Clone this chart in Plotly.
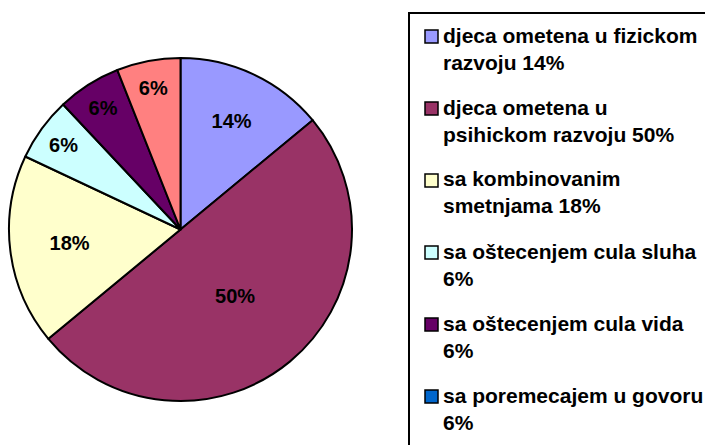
import plotly.graph_objects as go

# ---- data ----
labels = [
    "djeca ometena u fizickom<br>razvoju 14%",
    "djeca ometena u<br>psihickom razvoju 50%",
    "sa kombinovanim<br>smetnjama 18%",
    "sa oštecenjem cula sluha<br>6%",
    "sa oštecenjem cula vida<br>6%",
    "sa poremecajem u govoru<br>6%",
]
values = [14, 50, 18, 6, 6, 6]
slice_colors = ["#9999FF", "#993366", "#FFFFCC", "#CCFFFF", "#660066", "#FF8080"]
legend_colors = ["#9999FF", "#993366", "#FFFFCC", "#CCFFFF", "#660066", "#0066CC"]

W, H = 705, 445
FONT = "Liberation Sans, Arial, sans-serif"


def px(x):
    return x / W


def py(y):
    return 1 - y / H


fig = go.Figure()
fig.add_trace(go.Pie(
    values=values,
    labels=labels,
    sort=False,
    direction="clockwise",
    rotation=0,
    marker=dict(colors=slice_colors, line=dict(color="black", width=2)),
    texttemplate="%{percent:.0%}",
    textposition="inside",
    insidetextorientation="horizontal",
    textfont=dict(family=FONT, size=20, color="black", weight="bold"),
    domain=dict(x=[px(9), px(352)], y=[py(401), py(58)]),
    showlegend=False,
    hoverinfo="label+percent",
))

shapes = [dict(type="rect", xref="paper", yref="paper",
               x0=px(409), x1=px(730), y0=py(470), y1=py(13),
               line=dict(color="black", width=2), fillcolor="rgba(0,0,0,0)")]
annotations = []
row0, step = 36.5, 72
for i, (lab, col) in enumerate(zip(labels, legend_colors)):
    yc = row0 + i * step
    shapes.append(dict(type="rect", xref="paper", yref="paper",
                       x0=px(425), x1=px(438), y0=py(yc + 6.5), y1=py(yc - 6.5),
                       line=dict(color="black", width=1.5), fillcolor=col))
    annotations.append(dict(
        x=px(440.5), y=py(yc - 15), xref="paper", yref="paper",
        xanchor="left", yanchor="top", align="left", showarrow=False,
        text=lab, font=dict(family=FONT, size=21, color="black", weight="bold"),
    ))

fig.update_layout(
    width=W, height=H,
    margin=dict(l=0, r=0, t=0, b=0),
    paper_bgcolor="white", plot_bgcolor="white",
    shapes=shapes, annotations=annotations,
)

fig.write_html("out.html", config={"displayModeBar": False})

# remove the browser's default body margin so the figure sits at the page origin
with open("out.html", encoding="utf-8") as f:
    html = f.read()
html = html.replace("<body>", '<body style="margin:0;padding:0;overflow:hidden">', 1)
with open("out.html", "w", encoding="utf-8") as f:
    f.write(html)
